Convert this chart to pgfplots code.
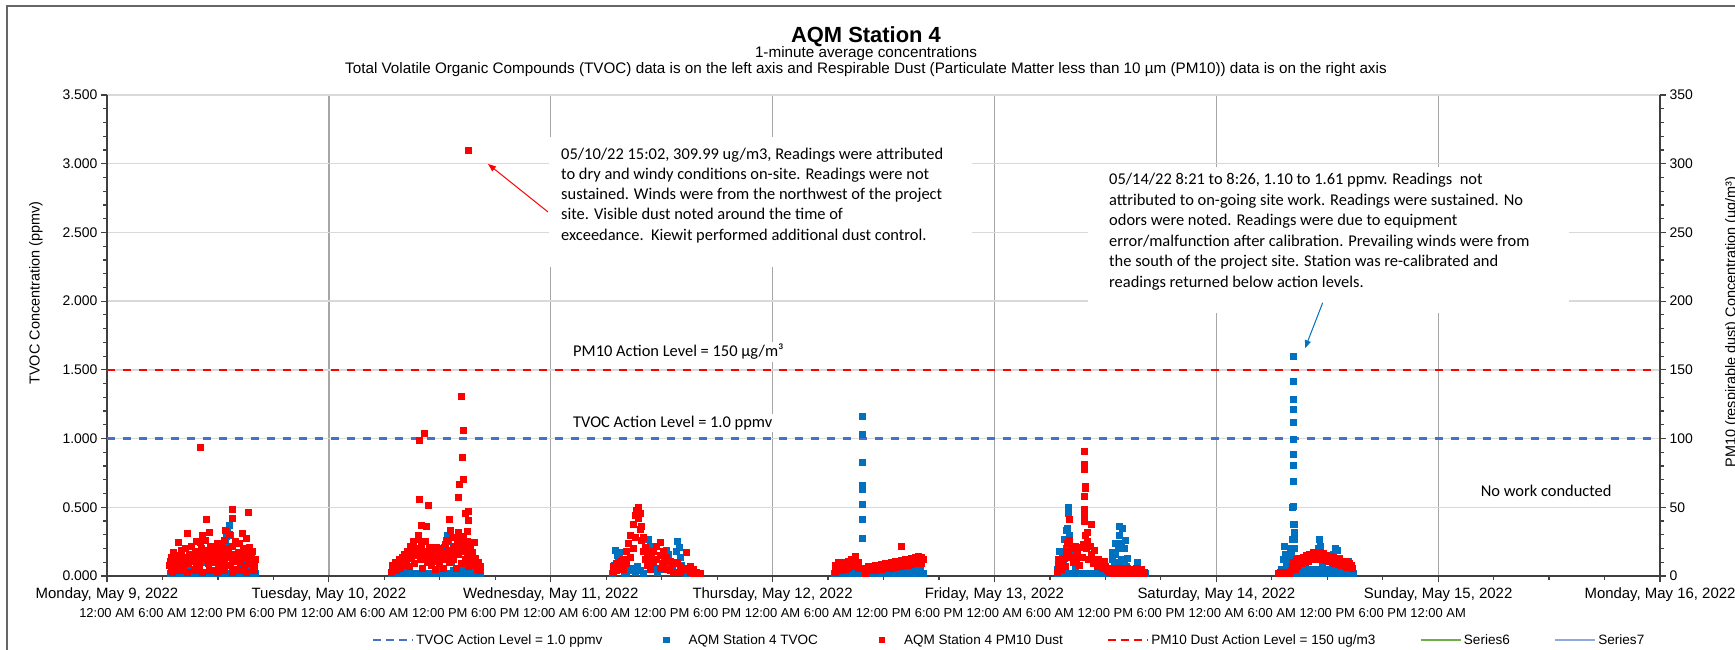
\documentclass[border=0pt]{standalone}
\usepackage{fontspec}
\setmainfont{Liberation Sans}
\newfontfamily\carlito{Carlito}
\usepackage{pgfplots}
\pgfplotsset{compat=1.18}
\usetikzlibrary{arrows.meta}
\definecolor{tvocblue}{HTML}{0070C0}
\definecolor{dashblue}{HTML}{4472C4}
\definecolor{pmred}{HTML}{FF0000}
\definecolor{gridgray}{HTML}{D9D9D9}
\definecolor{daygray}{HTML}{A6A6A6}
\definecolor{sixgreen}{HTML}{70AD47}
\definecolor{sevenblue}{HTML}{8FAADC}
\definecolor{axisdark}{HTML}{404040}
\begin{document}
\begin{tikzpicture}
% outer chart border
\draw[line width=1.3bp, black!60] (7bp,-20bp) -- (7bp,644bp) -- (1760bp,644bp);
\begin{axis}[
  at={(107bp,74bp)}, anchor=south west,
  scale only axis, width=1553bp, height=481bp,
  xmin=0, xmax=168, ymin=0, ymax=3.5,
  axis x line*=bottom, axis y line*=left,
  axis line style={line width=1.2bp, axisdark},
  xtick={0,24,...,168},
  xticklabels={{Monday, May 9, 2022},{Tuesday, May 10, 2022},{Wednesday, May 11, 2022},{Thursday, May 12, 2022},{Friday, May 13, 2022},{Saturday, May 14, 2022},{Sunday, May 15, 2022},{Monday, May 16, 2022}},
  minor xtick={0,6,...,168},
  ytick={0,0.5,1,1.5,2,2.5,3,3.5},
  minor y tick num=4,
  tick align=outside,
  major tick length=6bp, minor tick length=4bp,
  every tick/.style={line width=1.2bp, axisdark},
  xmajorgrids, ymajorgrids,
  major x grid style={line width=1.3bp, daygray},
  major y grid style={line width=1.3bp, gridgray},
  yticklabel style={font=\fontsize{14}{14}\selectfont, /pgf/number format/fixed, /pgf/number format/fixed zerofill, /pgf/number format/precision=3, /pgf/number format/assume math mode=true},
  xticklabel style={font=\fontsize{15}{15}\selectfont, yshift=-2bp},
  extra x ticks={0,6,...,144},
  extra x tick labels={12:00 AM,6:00 AM,12:00 PM,6:00 PM,12:00 AM,6:00 AM,12:00 PM,6:00 PM,12:00 AM,6:00 AM,12:00 PM,6:00 PM,12:00 AM,6:00 AM,12:00 PM,6:00 PM,12:00 AM,6:00 AM,12:00 PM,6:00 PM,12:00 AM,6:00 AM,12:00 PM,6:00 PM,12:00 AM},
  extra x tick style={grid=none, major tick length=0pt, xticklabel style={font=\fontsize{13}{13}\selectfont, yshift=-27bp}},
]
\addplot[dashblue, line width=2.5bp, dash pattern=on 8.3bp off 7.7bp] coordinates {(0,1) (168,1)};
\addplot[tvocblue, only marks, mark=square*, mark size=3bp, mark options={solid, fill=tvocblue, draw=tvocblue, line width=0.5bp}] table[row sep=\\] {
h v\\
6.8 .02\\7.1 .02\\7.4 .02\\7.7 .02\\8.0 .02\\8.3 .02\\8.6 .02\\8.9 .02\\9.2 .02\\9.5 .02\\9.8 .02\\10.1 .02\\10.4 .02\\10.7 .02\\11.0 .02\\11.3 .02\\11.6 .02\\11.9 .02\\12.2 .02\\12.5 .02\\12.8 .02\\13.1 .02\\13.4 .02\\13.7 .02\\14.0 .02\\14.3 .02\\14.6 .02\\14.9 .02\\15.2 .02\\15.5 .02\\15.8 .02\\16.0 .02\\
7.0 .05\\8.1 .05\\9.0 .05\\10.5 .1\\10.8 .15\\11.0 .19\\11.3 .12\\12.0 .05\\12.6 .15\\12.75 .24\\12.9 .29\\13.05 .335\\13.2 .37\\13.35 .3\\13.5 .22\\13.7 .12\\14.2 .05\\14.7 .1\\15.0 .05\\15.1 .08\\15.9 .05\\
30.8 .02\\31.1 .02\\31.4 .02\\31.7 .02\\32.0 .02\\32.3 .02\\32.6 .02\\32.9 .02\\33.2 .02\\33.5 .02\\33.8 .02\\34.1 .02\\34.4 .02\\34.7 .02\\35.0 .02\\35.3 .02\\35.6 .02\\35.9 .02\\36.2 .02\\36.5 .02\\36.8 .02\\37.1 .02\\37.4 .02\\37.7 .02\\38.0 .02\\38.3 .02\\38.6 .02\\38.9 .02\\39.2 .02\\39.5 .02\\39.8 .02\\40.1 .02\\40.4 .02\\
32.3 .045\\32.6 .045\\35.5 .045\\36.0 .045\\36.35 .12\\36.5 .21\\36.65 .26\\36.8 .3\\36.95 .25\\37.1 .17\\37.25 .1\\37.5 .045\\38.0 .045\\38.5 .045\\39.0 .045\\39.5 .045\\40.0 .045\\
54.7 .02\\54.85 .08\\55.0 .19\\55.15 .15\\55.3 .1\\55.45 .17\\55.6 .05\\55.9 .02\\56.2 .02\\56.5 .04\\56.8 .06\\57.1 .03\\57.4 .07\\57.7 .04\\58.0 .02\\58.3 .12\\58.45 .2\\58.6 .27\\58.75 .22\\58.9 .16\\59.05 .1\\59.2 .06\\59.5 .03\\59.8 .05\\60.1 .08\\60.3 .14\\60.5 .19\\60.7 .16\\60.9 .1\\61.1 .05\\61.4 .1\\61.55 .18\\61.7 .25\\61.85 .21\\62.0 .14\\62.15 .08\\62.4 .04\\62.7 .02\\63.0 .02\\63.3 .02\\63.6 .02\\63.9 .02\\64.2 .02\\
78.7 .02\\79.0 .02\\79.3 .02\\79.6 .02\\79.9 .02\\80.2 .02\\80.5 .02\\80.8 .02\\81.1 .02\\81.4 .02\\81.7 .02\\82.0 .02\\82.3 .02\\82.6 .02\\82.9 .02\\83.2 .02\\83.5 .02\\83.8 .02\\84.1 .02\\84.4 .02\\84.7 .02\\85.0 .02\\85.3 .02\\85.6 .02\\85.9 .02\\86.2 .02\\86.5 .02\\86.8 .02\\87.1 .02\\87.4 .02\\87.7 .02\\88.0 .02\\88.3 .02\\
84.5 .04\\85.0 .04\\85.5 .04\\86.0 .04\\86.5 .04\\87.0 .04\\87.5 .04\\88.0 .04\\
81.68 1.165\\81.68 1.03\\81.68 .83\\81.65 .66\\81.7 .63\\81.72 .52\\81.75 .41\\81.75 .275\\
102.75 .05\\102.9 .12\\103.0 .18\\103.0 .06\\103.15 .1\\103.3 .15\\103.45 .08\\103.6 .27\\103.6 .15\\103.75 .33\\103.75 .2\\103.9 .35\\103.9 .25\\103.98 .46\\104.0 .5\\104.1 .3\\104.1 .18\\104.25 .22\\104.4 .15\\104.55 .1\\104.7 .06\\
102.8 .02\\103.1 .02\\103.4 .02\\103.7 .02\\104.0 .02\\104.3 .02\\104.6 .02\\104.9 .02\\105.2 .02\\105.5 .02\\105.8 .02\\106.1 .02\\106.4 .02\\106.7 .02\\107.0 .02\\107.3 .02\\107.6 .02\\107.9 .02\\108.2 .02\\108.5 .02\\108.8 .02\\109.1 .02\\109.4 .02\\109.7 .02\\110.0 .02\\110.3 .02\\110.6 .02\\110.9 .02\\111.2 .02\\111.5 .02\\111.8 .02\\112.1 .02\\112.3 .02\\
108.7 .06\\108.7 .12\\108.75 .17\\109.0 .08\\109.05 .16\\109.1 .24\\109.35 .1\\109.4 .2\\109.45 .3\\109.5 .36\\109.7 .12\\109.75 .24\\109.8 .35\\110.0 .1\\110.05 .2\\110.1 .26\\110.3 .07\\110.35 .13\\111.3 .05\\111.4 .1\\111.5 .07\\
127.05 .05\\127.2 .12\\127.35 .22\\127.45 .16\\127.6 .08\\127.8 .13\\127.95 .2\\128.1 .18\\128.2 .27\\128.25 .5\\
128.33 1.596\\128.33 1.414\\128.35 1.286\\128.35 1.213\\128.33 1.119\\128.33 .997\\128.35 .886\\128.35 .806\\128.36 .687\\128.33 .504\\128.36 .376\\128.38 .32\\128.38 .27\\128.42 .38\\128.45 .32\\128.4 .2\\128.5 .13\\
126.9 .02\\127.2 .02\\127.5 .02\\127.8 .02\\128.1 .02\\128.4 .02\\128.7 .02\\129.0 .02\\129.3 .02\\129.6 .02\\129.9 .02\\130.2 .02\\130.5 .02\\130.8 .02\\131.1 .02\\131.4 .02\\131.7 .02\\132.0 .02\\132.3 .02\\132.6 .02\\132.9 .02\\133.2 .02\\133.5 .02\\133.8 .02\\134.1 .02\\134.4 .02\\134.7 .02\\134.8 .02\\
128.6 .05\\129.2 .05\\129.8 .05\\130.4 .05\\131.0 .05\\131.6 .05\\132.2 .05\\132.8 .05\\133.4 .05\\134.0 .05\\134.6 .05\\
130.9 .12\\131.0 .2\\131.1 .27\\131.2 .22\\131.3 .14\\131.45 .08\\132.5 .1\\132.7 .16\\132.9 .2\\133.1 .19\\133.3 .13\\134.1 .08\\134.25 .11\\134.4 .08\\
};
\end{axis}
\begin{axis}[
  at={(107bp,74bp)}, anchor=south west,
  scale only axis, width=1553bp, height=481bp,
  xmin=0, xmax=168, ymin=0, ymax=350,
  axis x line=none, axis y line*=right,
  axis line style={line width=1.2bp, axisdark},
  ytick={0,50,...,350}, minor y tick num=4,
  tick align=outside,
  major tick length=6bp, minor tick length=4bp,
  every tick/.style={line width=1.2bp, axisdark},
  yticklabel style={font=\fontsize{14}{14}\selectfont, /pgf/number format/assume math mode=true},
  legend style={at={(0.5808,-0.133)}, anchor=center, draw=none, fill=none,
    font=\fontsize{13.6}{13.6}\selectfont, inner sep=0pt,
    /tikz/every even column/.append style={column sep=42bp}},
  legend columns=6, legend cell align=left,
]
\addplot[pmred, only marks, mark=square*, mark size=3bp, mark options={solid, fill=pmred, draw=pmred, line width=0.5bp}, forget plot] table[row sep=\\] {
h v\\
6.75 8\\6.9 14\\7.0 5\\7.15 17\\7.3 10\\7.45 4\\7.6 15\\7.71 24.7\\7.9 11\\8.05 19\\8.2 6\\8.35 14\\8.5 20\\8.69 31\\8.8 9\\8.95 16\\9.1 22\\9.25 12\\9.4 5\\9.55 18\\9.7 25\\9.85 14\\10.0 8\\10.06 24.7\\10.09 94\\10.2 20\\10.35 30\\10.5 13\\10.65 26\\10.74 41.5\\10.85 18\\11.0 9\\11.07 32\\11.2 22\\11.35 15\\11.5 4\\11.65 19\\11.8 11\\11.95 24\\12.1 6\\12.25 16\\12.4 21\\12.55 9\\12.7 26\\12.8 33\\12.95 14\\13.1 18\\13.23 30.6\\13.35 8\\13.5 22\\13.55 48.8\\13.55 42\\13.7 12\\13.85 25\\14.0 5\\14.15 17\\14.31 24\\14.45 10\\14.63 31\\14.75 20\\14.9 7\\15.07 27.7\\15.2 14\\15.28 46.6\\15.4 21\\15.55 9\\15.7 18\\15.85 5\\16.0 12\\
6.83 11\\7.23 13\\7.53 9\\7.83 15\\8.13 12\\8.43 10\\8.73 14\\9.03 11\\9.33 16\\9.63 10\\9.93 13\\10.23 15\\10.53 19\\10.83 12\\11.13 16\\11.43 10\\11.73 14\\12.03 12\\12.33 17\\12.63 13\\12.93 20\\13.23 15\\13.53 12\\13.83 16\\14.13 11\\14.43 15\\14.73 13\\15.03 17\\15.33 12\\15.63 14\\15.93 9\\
7.1 3\\7.9 4\\8.7 3\\9.5 4\\10.3 3\\11.1 4\\11.9 3\\12.7 4\\13.5 3\\14.3 4\\15.1 3\\15.9 4\\
30.72 3\\30.85 8\\31.0 5\\31.15 10\\31.3 4\\31.45 9\\31.6 12\\31.75 6\\31.9 14\\32.05 8\\32.2 16\\32.35 11\\32.5 18\\32.65 7\\32.8 22\\32.95 13\\33.1 25\\33.25 9\\33.4 20\\33.55 15\\33.7 27\\33.85 12\\34.0 22\\34.15 6\\34.3 18\\34.45 25\\34.6 10\\34.75 16\\34.9 21\\35.05 8\\35.2 14\\35.35 19\\35.5 5\\35.65 12\\35.8 17\\35.95 9\\36.1 20\\36.25 13\\36.4 6\\36.55 23\\36.7 15\\36.85 26\\37.0 10\\37.15 19\\37.3 28\\37.45 12\\37.6 22\\37.75 6\\37.9 27\\38.05 16\\38.2 24\\38.35 9\\38.5 29\\38.65 18\\38.8 12\\38.95 25\\39.1 7\\39.25 20\\39.4 14\\39.55 17\\39.7 8\\39.85 13\\40.0 5\\40.15 10\\40.3 4\\40.4 7\\
30.9 6\\31.2 8\\31.5 7\\31.8 10\\32.1 12\\32.4 14\\32.7 16\\33.0 17\\33.3 15\\33.6 18\\33.9 16\\34.2 14\\34.5 12\\34.8 13\\35.1 15\\35.4 11\\35.7 13\\36.0 15\\36.3 12\\36.6 17\\36.9 19\\37.2 16\\37.5 20\\37.8 17\\38.1 21\\38.4 18\\38.7 22\\39.0 16\\39.3 12\\39.6 11\\39.9 8\\40.2 6\\
38.32 130.8\\34.32 103.8\\33.78 98.8\\38.54 106\\38.43 86.4\\38.54 70.4\\38.10 66.7\\38.0 57.3\\33.78 55.8\\34.75 51.5\\39.08 47.3\\38.75 45.6\\37.02 41.3\\39.08 40.8\\33.96 36.9\\34.5 36.4\\37.13 33.2\\39.01 32.7\\38.0 31.5\\33.67 29.6\\39.73 24.5\\35.62 20.9\\39.03 309.99\\
54.77 3\\54.77 7\\55.13 9\\55.13 4\\55.49 6\\55.49 11\\55.84 12\\55.84 5\\56.21 18\\56.21 9\\56.39 24\\56.64 30\\56.64 14\\56.92 38\\56.92 20\\57.14 44\\57.14 28\\57.29 48\\57.47 50\\57.47 42\\57.65 46\\57.65 34\\57.83 36\\57.83 26\\58.01 28\\58.01 18\\58.19 21\\58.19 12\\58.44 17\\58.44 8\\58.73 14\\58.73 5\\59.09 18\\59.09 10\\59.45 22\\59.45 12\\59.81 24.7\\59.81 15\\59.81 6\\60.17 18\\60.17 9\\60.54 14\\60.54 5\\60.89 11\\60.89 4\\61.25 9\\61.25 3\\61.68 10\\61.97 7\\61.97 3\\62.33 6\\62.70 17\\62.70 5\\63.06 7\\63.06 3\\63.41 5\\63.41 2\\63.78 3\\64.14 2\\
78.74 8\\79.1 10\\79.46 9\\79.82 10\\80.18 11\\80.54 12\\80.9 14.5\\81.26 10\\81.63 6\\81.98 5\\82.34 6.8\\82.7 7\\83.06 7.5\\83.42 8\\83.79 8.5\\84.15 9\\84.51 9.5\\84.87 10\\85.23 10.5\\85.59 11\\85.95 11.5\\86.31 12\\86.67 12.5\\87.04 13\\87.39 14\\87.75 14.5\\88.12 13.5\\88.25 12\\
78.74 3\\79.1 5\\79.46 4\\79.82 5\\80.18 6\\80.54 7\\80.9 9\\81.26 6\\81.98 2\\82.34 4\\82.7 4\\83.06 4.5\\83.42 5\\83.79 5\\84.15 5.5\\84.51 5.5\\84.87 6\\85.23 6.5\\85.59 7\\85.95 7\\86.31 7.5\\86.67 8\\87.04 8.5\\87.39 9\\87.75 9.5\\88.12 9\\85.95 21.8\\
102.75 3\\102.9 8\\103.05 12\\103.2 5\\103.35 10\\103.5 13\\103.65 7\\103.8 18\\103.9 24\\104.0 15\\104.08 41.3\\104.1 26\\104.25 14\\104.4 20\\104.55 10\\104.7 22\\104.85 13\\105.0 18\\105.15 8\\105.3 21\\105.45 14\\105.6 23\\
105.71 91\\105.71 81.3\\105.75 78\\105.78 65.5\\105.78 63.8\\105.75 58\\105.72 48.5\\105.72 44\\105.72 40\\105.8 30\\105.9 20\\106.07 31.6\\106.05 25\\106.2 12\\106.35 22\\106.5 37.6\\106.5 16\\106.65 9\\106.8 19\\106.95 11\\107.1 7\\107.25 12\\107.4 8\\107.55 10\\107.7 6\\107.85 11\\108.0 7\\108.15 4\\108.3 6\\108.45 3\\108.6 5\\108.75 2\\108.9 6\\109.05 3\\109.2 5\\109.35 2\\109.5 4\\109.65 6\\109.8 3\\109.95 5\\110.1 2\\110.25 4\\110.4 6\\110.55 3\\110.7 5\\110.85 2\\111.0 4\\111.15 3\\111.3 6\\111.45 2\\111.6 4\\111.75 3\\111.9 5\\112.05 2\\112.2 3\\
126.7 2\\126.9 3\\127.1 2\\127.3 3\\127.5 2\\127.7 3\\127.9 2\\128.1 4\\128.25 7\\128.31 9.7\\128.5 5\\128.67 12\\128.8 7\\129.0 13\\129.2 9\\129.4 14\\129.6 10\\129.75 15.3\\129.95 11\\130.1 16\\130.3 12\\130.5 17\\130.7 12\\130.9 17\\131.1 12\\131.2 17\\131.4 12\\131.6 16.5\\131.8 11.5\\131.9 15.3\\132.1 11\\132.3 14.5\\132.5 10\\132.6 13.6\\132.8 9\\133.0 13\\133.2 8.5\\133.3 12\\133.5 8\\133.7 11\\133.9 7\\134.05 10.5\\134.2 6.5\\134.4 9.5\\134.6 8\\134.75 6\\
};
\addplot[pmred, line width=2.5bp, dash pattern=on 8.3bp off 7.7bp, forget plot] coordinates {(0,150) (168,150)};
\addlegendimage{no marks, legend image code/.code={\draw[dashblue, line width=2.5bp, dash pattern=on 8bp off 5bp] (0bp,0bp) -- (40bp,0bp);}}
\addlegendentry{TVOC Action Level = 1.0 ppmv}
\addlegendimage{no marks, draw=none, legend image code/.code={\path (0bp,0bp) (40bp,0bp); \fill[tvocblue] (16.8bp,-3.2bp) rectangle (23.2bp,3.2bp);}}
\addlegendentry{AQM Station 4 TVOC}
\addlegendimage{no marks, draw=none, legend image code/.code={\path (0bp,0bp) (40bp,0bp); \fill[pmred] (16.8bp,-3.2bp) rectangle (23.2bp,3.2bp);}}
\addlegendentry{AQM Station 4 PM10 Dust}
\addlegendimage{no marks, legend image code/.code={\draw[pmred, line width=2.5bp, dash pattern=on 8bp off 5bp] (0bp,0bp) -- (40bp,0bp);}}
\addlegendentry{PM10 Dust Action Level = 150 ug/m3}
\addlegendimage{no marks, legend image code/.code={\draw[sixgreen, line width=2.5bp] (0bp,0bp) -- (40bp,0bp);}}
\addlegendentry{Series6}
\addlegendimage{no marks, legend image code/.code={\draw[sevenblue, line width=2.5bp] (0bp,0bp) -- (40bp,0bp);}}
\addlegendentry{Series7}
\end{axis}
% titles
\node[anchor=base, font=\bfseries\fontsize{22}{22}\selectfont] at (866bp,607bp) {AQM Station 4};
\node[anchor=base, font=\fontsize{15.3}{15.3}\selectfont] at (866bp,592bp) {1-minute average concentrations};
\node[anchor=base, font=\fontsize{15.3}{15.3}\selectfont] at (866bp,576bp) {Total Volatile Organic Compounds (TVOC) data is on the left axis and Respirable Dust (Particulate Matter less than 10 µm (PM10)) data is on the right axis};
% axis titles
\node[rotate=90, font=\fontsize{14.5}{14.5}\selectfont] at (36bp,357bp) {TVOC Concentration (ppmv)};
\node[rotate=90, anchor=north, inner sep=0pt, font=\fontsize{14.5}{14.5}\selectfont] at (1725bp,328bp) {PM10 (respirable dust) Concentration (µg/m³)};
% annotation box 1
\fill[white] (549bp,383bp) rectangle (972bp,513bp);
\node[anchor=north west, inner sep=0pt, align=left, font=\carlito\fontsize{16.5}{20.3}\selectfont] at (561bp,502.5bp) {05/10/22 15:02, 309.99 ug/m3, Readings were attributed\\to dry and windy conditions on-site. Readings were not\\sustained. Winds were from the northwest of the project\\site. Visible dust noted around the time of\\exceedance.\ \ Kiewit performed additional dust control.};
\draw[pmred, line width=1bp, -{Triangle[length=8bp,width=6bp]}] (548bp,438bp) -- (488bp,486bp);
% annotation box 2
\fill[white] (1088bp,337bp) rectangle (1569bp,483bp);
\node[anchor=north west, inner sep=0pt, align=left, font=\carlito\fontsize{16.5}{20.6}\selectfont] at (1109bp,477bp) {05/14/22 8:21 to 8:26, 1.10 to 1.61 ppmv. Readings\ \ not\\attributed to on-going site work. Readings were sustained. No\\odors were noted. Readings were due to equipment\\error/malfunction after calibration. Prevailing winds were from\\the south of the project site. Station was re-calibrated and\\readings returned below action levels.};
\draw[tvocblue, line width=1bp, -{Triangle[length=8bp,width=6bp]}] (1322.7bp,347.3bp) -- (1305bp,301.7bp);
% level labels
\node[anchor=west, fill=white, inner sep=2bp, font=\carlito\fontsize{16.5}{16.5}\selectfont] at (571bp,298bp) {PM10 Action Level = 150 µg/m³};
\node[anchor=west, fill=white, inner sep=2bp, font=\carlito\fontsize{16.5}{16.5}\selectfont] at (571bp,227bp) {TVOC Action Level = 1.0 ppmv};
\node[anchor=east, font=\carlito\fontsize{16.5}{16.5}\selectfont] at (1615bp,159bp) {No work conducted};
\pgfresetboundingbox
\path[use as bounding box] (0bp,0bp) rectangle (1735bp,650bp);
\end{tikzpicture}
\end{document}
